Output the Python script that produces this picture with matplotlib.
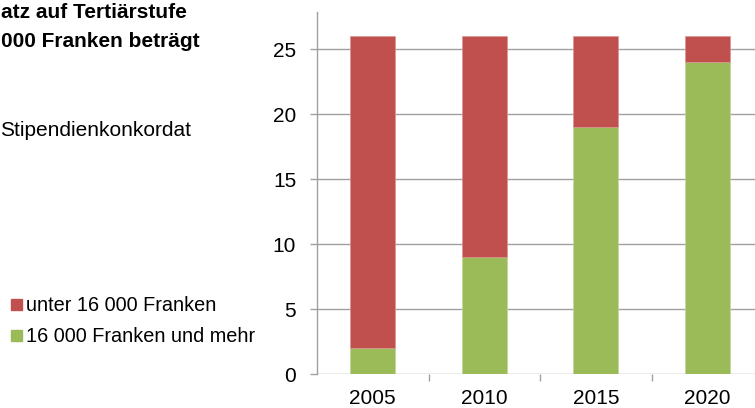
import numpy as np
import matplotlib
matplotlib.use("Agg")
import matplotlib.pyplot as plt
from matplotlib.patches import Rectangle

plt.rcParams['font.family'] = ['Liberation Sans', 'DejaVu Sans']

# Daten
jahre = ["2005", "2010", "2015", "2020"]
ab_16000 = [2, 9, 19, 24]
unter_16000 = [24, 17, 7, 2]
legende = ["unter 16 000 Franken", "16 000 Franken und mehr"]
titel = ["atz auf Tertiärstufe", "000 Franken beträgt"]
quelle = "Stipendienkonkordat"

rot = "#C0504D"
gruen = "#9BBB59"
grau = "#A0A0A0"
fs = 15

W, H = 755, 408
fig = plt.figure(figsize=(W / 100, H / 100), dpi=100)

# Achse in Pixelkoordinaten
x0, x1 = 317, 763
y0, y1 = 374, 12
ax = fig.add_axes([x0 / W, 1 - y0 / H, (x1 - x0) / W, (y0 - y1) / H])

x = np.arange(len(jahre))
ax.bar(x, ab_16000, width=0.4, color=gruen, edgecolor="#c3d69b", linewidth=0.5, zorder=3)
ax.bar(x, unter_16000, bottom=ab_16000, width=0.4, color=rot, edgecolor="#d99694", linewidth=0.5, zorder=3)

ax.set_xlim(-0.5, len(jahre) - 0.5)
ax.set_ylim(0, 27.85)
ax.set_yticks([0, 5, 10, 15, 20, 25])
ax.yaxis.grid(True, color=grau, linewidth=1.0, zorder=0)
ax.set_axisbelow(True)

for s in ["top", "right", "bottom"]:
    ax.spines[s].set_visible(False)
ax.spines["left"].set_color(grau)
ax.spines["left"].set_linewidth(1.0)

ax.tick_params(axis="y", length=5, width=1.0, color=grau, pad=10, labelsize=fs)
ax.set_xticks(x)
ax.set_xticklabels(jahre)
ax.set_xticks(np.arange(0.5, len(jahre) - 0.5, 1), minor=True)
ax.tick_params(axis="x", which="major", length=0, pad=11, labelsize=fs)
ax.tick_params(axis="x", which="minor", length=5, width=1.0, color=grau)

# Titel und Quelle (sichtbarer Teil, links am Rand)
fig.text(1 / W, 1 - 18 / H, titel[0], fontsize=fs, fontweight="bold", ha="left", va="baseline")
fig.text(1 / W, 1 - 47 / H, titel[1], fontsize=fs, fontweight="bold", ha="left", va="baseline")
fig.text(0.5 / W, 1 - 136 / H, quelle, fontsize=fs, ha="left", va="baseline")

# Legende
for i, (lab, col) in enumerate(zip(legende, [rot, gruen])):
    yb = 311 + 31 * i
    fig.patches.append(Rectangle((11 / W, 1 - (yb - 1) / H), 11 / W, 11 / H,
                                 transform=fig.transFigure, color=col, figure=fig))
    fig.text(26 / W, 1 - yb / H, lab, fontsize=14.3, ha="left", va="baseline")

fig.savefig("out.png", dpi=100)
